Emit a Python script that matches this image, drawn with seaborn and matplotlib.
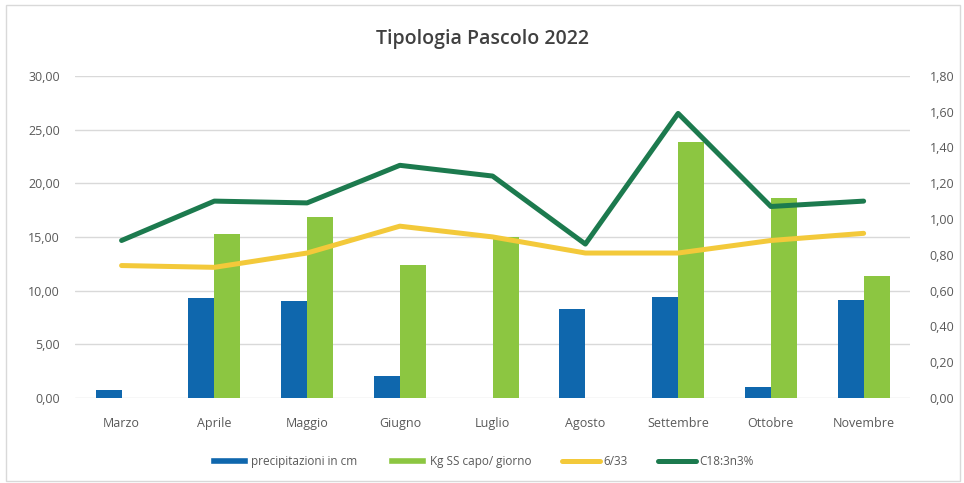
import matplotlib
matplotlib.use("Agg")
import matplotlib.pyplot as plt
from matplotlib.patches import Patch
from matplotlib.lines import Line2D
from matplotlib.ticker import FuncFormatter
import numpy as np
import pandas as pd
import seaborn as sns

mesi = ["Marzo", "Aprile", "Maggio", "Giugno", "Luglio", "Agosto",
        "Settembre", "Ottobre", "Novembre"]
precipitazioni_cm = [0.75, 9.3, 9.0, 2.05, 0.0, 8.3, 9.4, 1.0, 9.1]
kg_ss_capo_giorno = [0.0, 15.3, 16.9, 12.4, 15.0, 0.0, 23.8, 18.6, 11.4]
rapporto_6_3 = [0.74, 0.73, 0.81, 0.96, 0.90, 0.81, 0.81, 0.88, 0.92]
c18_3n3 = [0.88, 1.10, 1.09, 1.30, 1.24, 0.86, 1.59, 1.07, 1.10]

left_ticks = [0, 5, 10, 15, 20, 25, 30]
right_ticks = [0.0, 0.2, 0.4, 0.6, 0.8, 1.0, 1.2, 1.4, 1.6, 1.8]

lab_prec = "precipitazioni in cm"
lab_kg = "Kg SS capo/ giorno"
lab_63 = "6/33"
lab_c18 = "C18:3n3%"

col_prec = "#0f67ad"
col_kg = "#8cc641"
col_63 = "#f3c93a"
col_c18 = "#1c7a4e"
col_text = "#595959"

sns.set_theme(style="white")
plt.rcParams["font.family"] = ["Open Sans", "DejaVu Sans"]

bars = pd.DataFrame({
    "mese": mesi * 2,
    "valore": precipitazioni_cm + kg_ss_capo_giorno,
    "serie": [lab_prec] * len(mesi) + [lab_kg] * len(mesi),
})
lines = pd.DataFrame({
    "mese": mesi * 2,
    "valore": rapporto_6_3 + c18_3n3,
    "serie": [lab_63] * len(mesi) + [lab_c18] * len(mesi),
})

fig = plt.figure(figsize=(9.64, 4.83), dpi=100)
ax = fig.add_axes([0.078, 0.176, 0.866, 0.667])

sns.barplot(data=bars, x="mese", y="valore", hue="serie",
            palette=[col_prec, col_kg], width=0.56, gap=0,
            saturation=1, linewidth=0, ax=ax, legend=False, zorder=2)

ax.set_ylim(0, 30)
ax.set_xlim(-0.5, len(mesi) - 0.5)
ax.set_yticks(left_ticks)
ax.yaxis.grid(True, color="#d9d9d9", linewidth=1)
ax.set_axisbelow(True)
for s in ax.spines.values():
    s.set_visible(False)
ax.set_xlabel("")
ax.set_ylabel("")
fmt = FuncFormatter(lambda v, p: f"{v:.2f}".replace(".", ","))
ax.yaxis.set_major_formatter(fmt)
ax.tick_params(axis="both", length=0, labelsize=9, colors=col_text)
ax.tick_params(axis="x", pad=14)
ax.tick_params(axis="y", pad=11)

ax2 = ax.twinx()
sns.lineplot(data=lines, x="mese", y="valore", hue="serie",
             palette=[col_63, col_c18], linewidth=3.6, sort=False,
             ax=ax2, legend=False)
ax2.set_ylim(0, 1.8)
ax2.set_yticks(right_ticks)
ax2.yaxis.set_major_formatter(fmt)
ax2.tick_params(axis="y", length=0, labelsize=9, colors=col_text, pad=14)
ax2.set_ylabel("")
for s in ax2.spines.values():
    s.set_visible(False)

fig.suptitle("Tipologia Pascolo 2022", x=0.5, y=0.94, fontsize=14,
             color="#404040", fontweight="semibold")

handles = [
    Patch(facecolor=col_prec, label=lab_prec),
    Patch(facecolor=col_kg, label=lab_kg),
    Line2D([0], [0], color=col_63, linewidth=3.6, label=lab_63),
    Line2D([0], [0], color=col_c18, linewidth=3.6, label=lab_c18),
]
leg = fig.legend(handles=handles, loc="center", bbox_to_anchor=(0.5, 0.045),
                 ncol=4, frameon=False, fontsize=8.5, handlelength=3.2,
                 handleheight=0.6, columnspacing=2.6, handletextpad=0.3)
for t in leg.get_texts():
    t.set_color(col_text)

fig.patches.append(plt.Rectangle((0.006, 0.004), 0.99, 0.985,
                                 transform=fig.transFigure, fill=False,
                                 edgecolor="#d9d9d9", linewidth=1))

fig.savefig("out.png", dpi=100)
